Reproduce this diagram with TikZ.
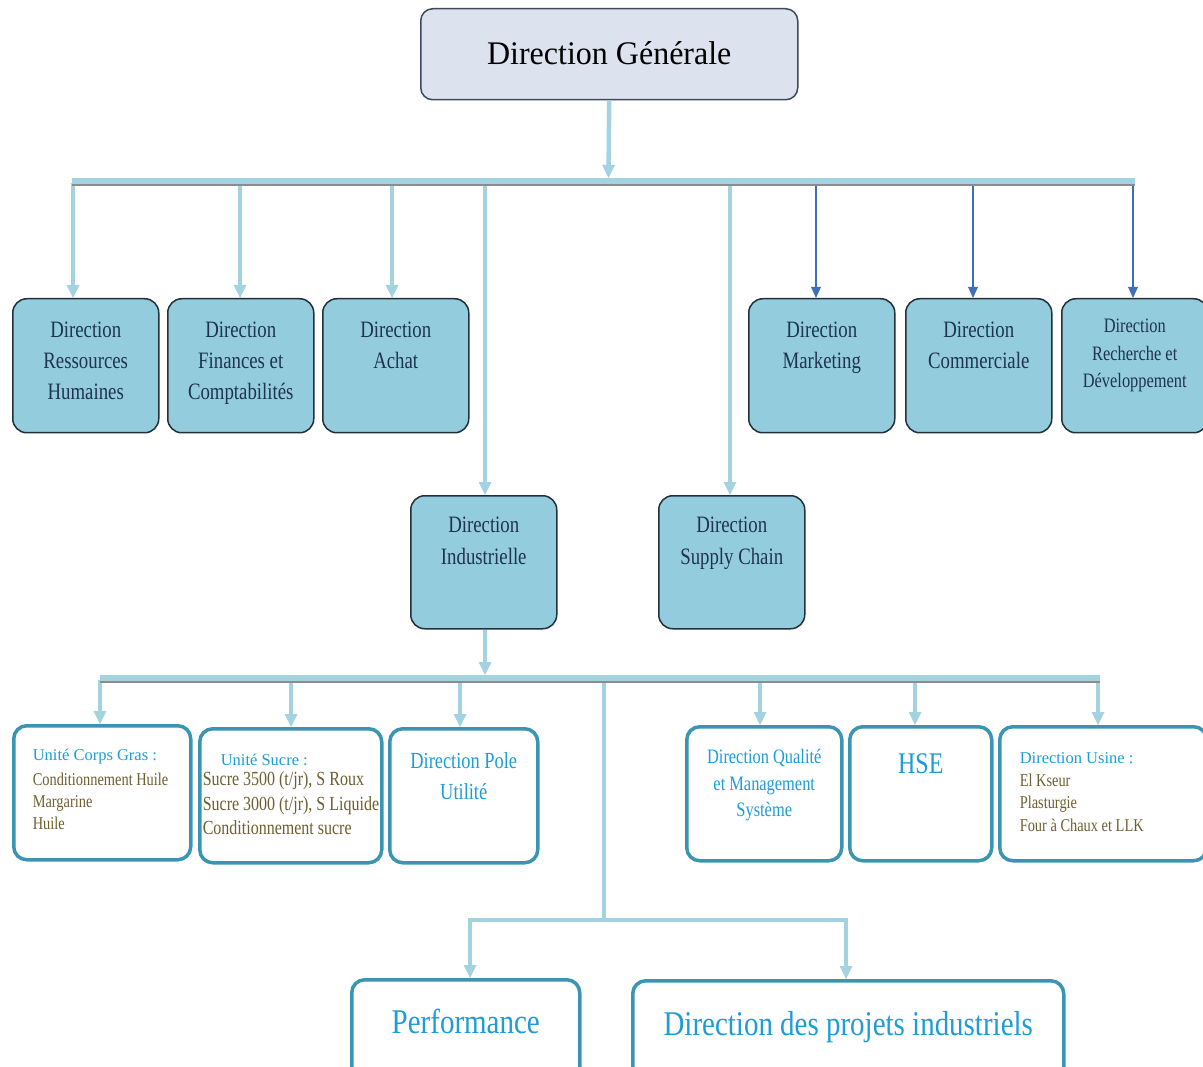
\documentclass[tikz,border=0pt]{standalone}
\usepackage{fontspec}
\setmainfont{Liberation Serif}
\newfontfamily\fA[FakeStretch=0.97]{Liberation Serif}
\newfontfamily\fB[FakeStretch=0.8]{Liberation Serif}
\newfontfamily\fC[FakeStretch=0.835]{Liberation Serif}
\newfontfamily\fD{Liberation Serif}
\usetikzlibrary{arrows.meta}
\definecolor{lb}{HTML}{A3D3E0}
\definecolor{sh}{HTML}{8C8C8C}
\definecolor{db}{HTML}{3F6FB6}
\definecolor{tf}{HTML}{DCE3EF}
\definecolor{tbd}{HTML}{3D4A5C}
\definecolor{bfl}{HTML}{93CDDD}
\definecolor{bbd}{HTML}{22303C}
\definecolor{btx}{HTML}{1F3350}
\definecolor{wbd}{HTML}{3A95B2}
\definecolor{hbl}{HTML}{1E9CD8}
\definecolor{olv}{HTML}{6E5F30}
\newcommand{\tbx}[3]{\begin{minipage}[c][#2][t]{#1}#3\end{minipage}}
\newcommand{\fl}[1]{\rule{0pt}{#1}}
\tikzset{
  topbox/.style={draw=tbd, fill=tf, line width=1.5pt, rounded corners=12pt, inner sep=0pt, anchor=north west, text=black},
  dirbox/.style={draw=bbd, fill=bfl, line width=1.5pt, rounded corners=14pt, inner sep=0pt, anchor=north west, text=btx},
  unitbox/.style={draw=wbd, fill=white, line width=3.5pt, rounded corners=13pt, inner sep=0pt, anchor=north west, text=hbl},
  conn/.style={draw=lb, line width=4.5pt},
  larr/.style={conn, -{Triangle[width=13pt,length=13pt,line width=0pt]}},
  darr/.style={draw=db, line width=2pt, -{Triangle[width=10pt,length=11pt,line width=0pt]}},
  busshadow/.style={draw=sh, line width=5pt},
  busline/.style={draw=lb, line width=6pt}
}
\begin{document}
\begin{tikzpicture}[x=1pt,y=-1pt]
\useasboundingbox (0,0) rectangle (1203,1067);

% top
\node[topbox] (dg) at (420,8) {\tbx{377pt}{91pt}{\centering\fA\fontsize{33}{38}\selectfont\fl{56pt}Direction Générale}};

% row 1
\node[dirbox] (rh) at (12,298) {\tbx{146pt}{134pt}{\centering\fB\fontsize{23.5}{31}\selectfont\fl{39pt}Direction\\Ressources\\Humaines}};
\node[dirbox] (fin) at (167,298) {\tbx{146pt}{134pt}{\centering\fB\fontsize{23.5}{31}\selectfont\fl{39pt}Direction\\Finances et\\Comptabilités}};
\node[dirbox] (ach) at (322,298) {\tbx{146pt}{134pt}{\centering\fB\fontsize{23.5}{31}\selectfont\fl{39pt}Direction\\Achat}};
\node[dirbox] (mkt) at (748,298) {\tbx{146pt}{134pt}{\centering\fB\fontsize{23.5}{31}\selectfont\fl{39pt}Direction\\Marketing}};
\node[dirbox] (com) at (905,298) {\tbx{146pt}{134pt}{\centering\fB\fontsize{23.5}{31}\selectfont\fl{39pt}Direction\\Commerciale}};
\node[dirbox] (rd) at (1061,298) {\tbx{146pt}{134pt}{\centering\fB\fontsize{20.5}{27.5}\selectfont\fl{34pt}Direction\\Recherche et\\Développement}};

% row 2
\node[dirbox] (ind) at (410,495) {\tbx{146pt}{133pt}{\centering\fB\fontsize{23.5}{32}\selectfont\fl{37pt}Direction\\Industrielle}};
\node[dirbox] (sc) at (658,495) {\tbx{146pt}{133pt}{\centering\fB\fontsize{23.5}{32}\selectfont\fl{37pt}Direction\\Supply Chain}};

% row 3
\node[unitbox] (cg) at (12,724) {\tbx{177pt}{134pt}{\raggedright\leftskip=19pt\fl{35pt}{\fD\fontsize{16.5}{22}\selectfont Unité Corps Gras :}\\[3pt]\color{olv}\fB\fontsize{18}{22}\selectfont Conditionnement Huile\\Margarine\\Huile}};
\node[unitbox] (su) at (198,727) {\tbx{182pt}{134pt}{\raggedright\leftskip=3pt\fl{37pt}\hspace*{18pt}{\fD\fontsize{16.5}{22}\selectfont Unité Sucre :}\\[-4.5pt]\color{olv}\fB\fontsize{20}{24.5}\selectfont Sucre 3500 (t/jr), S Roux\\Sucre 3000 (t/jr), S Liquide\\Conditionnement sucre}};
\node[unitbox] (pu) at (388,727) {\tbx{148pt}{134pt}{\centering\fB\fontsize{23}{31}\selectfont\fl{40pt}Direction Pole\\Utilité}};
\node[unitbox] (qm) at (685,725) {\tbx{155pt}{134pt}{\centering\fB\fontsize{20.5}{26.5}\selectfont\fl{37pt}Direction Qualité\\et Management\\Système}};
\node[unitbox] (hse) at (848,725) {\tbx{142pt}{134pt}{\centering\fB\fontsize{30}{34}\selectfont\fl{47pt}HSE}};
\node[unitbox] (us) at (998,725) {\tbx{207pt}{134pt}{\raggedright\leftskip=20pt\fl{37pt}{\fD\fontsize{16.5}{22}\selectfont Direction Usine :}\\[-0.3pt]\color{olv}\fB\fontsize{18}{22.7}\selectfont El Kseur\\Plasturgie\\Four à Chaux et LLK}};

% bottom
\node[unitbox] (perf) at (350,978) {\tbx{228pt}{100pt}{\centering\fC\fontsize{34.7}{40}\selectfont\fl{54pt}Performance}};
\node[unitbox] (proj) at (631,979) {\tbx{431pt}{100pt}{\centering\fC\fontsize{34.7}{40}\selectfont\fl{55pt}Direction des projets industriels}};

% bus 1
\coordinate (busL) at (72,181);
\coordinate (busR) at (1135,181);
\coordinate (j0) at (608.5,178);
\coordinate (a1) at (73,183);
\coordinate (a2) at (240,183);
\coordinate (a3) at (392,183);
\coordinate (a4) at (485,183);
\coordinate (a5) at (730,183);
\coordinate (a6) at (816,183);
\coordinate (a7) at (973,183);
\coordinate (a8) at (1133,183);

\draw[larr] (dg.south) -- (j0);
\draw[larr] (a1) -- (a1 |- rh.north);
\draw[larr] (a2) -- (a2 |- fin.north);
\draw[larr] (a3) -- (a3 |- ach.north);
\draw[larr] (a4) -- (a4 |- ind.north);
\draw[larr] (a5) -- (a5 |- sc.north);
\draw[darr] (a6) -- (a6 |- mkt.north);
\draw[darr] (a7) -- (a7 |- com.north);
\draw[darr] (a8) -- (a8 |- rd.north);
\draw[busshadow] ([yshift=-2.5pt]busL) -- ([yshift=-2.5pt]busR);
\draw[busline] (busL) -- (busR);

% bus 2
\coordinate (bus2L) at (100,678);
\coordinate (bus2R) at (1100,678);
\coordinate (j1) at (485,675);
\coordinate (c1) at (100,680);
\coordinate (c2) at (291,680);
\coordinate (c3) at (460,680);
\coordinate (c4) at (760,680);
\coordinate (c5) at (915,680);
\coordinate (c6) at (1098,680);
\coordinate (c7) at (604,680);
\coordinate (j2) at (604,920);
\coordinate (h1) at (470,920);
\coordinate (h2) at (846,920);

\draw[larr] (ind.south -| j1) -- (j1);
\draw[larr] (c1) -- (c1 |- cg.north);
\draw[larr] (c2) -- (c2 |- su.north);
\draw[larr] (c3) -- (c3 |- pu.north);
\draw[larr] (c4) -- (c4 |- qm.north);
\draw[larr] (c5) -- (c5 |- hse.north);
\draw[larr] (c6) -- (c6 |- us.north);
\draw[conn] (c7) -- (j2);
\draw[conn, line cap=rect] (h1) -- (h2);
\draw[larr] (h1) -- (h1 |- perf.north);
\draw[larr] (h2) -- (h2 |- proj.north);
\draw[busshadow] ([yshift=-2.5pt]bus2L) -- ([yshift=-2.5pt]bus2R);
\draw[busline] (bus2L) -- (bus2R);
\end{tikzpicture}
\end{document}
